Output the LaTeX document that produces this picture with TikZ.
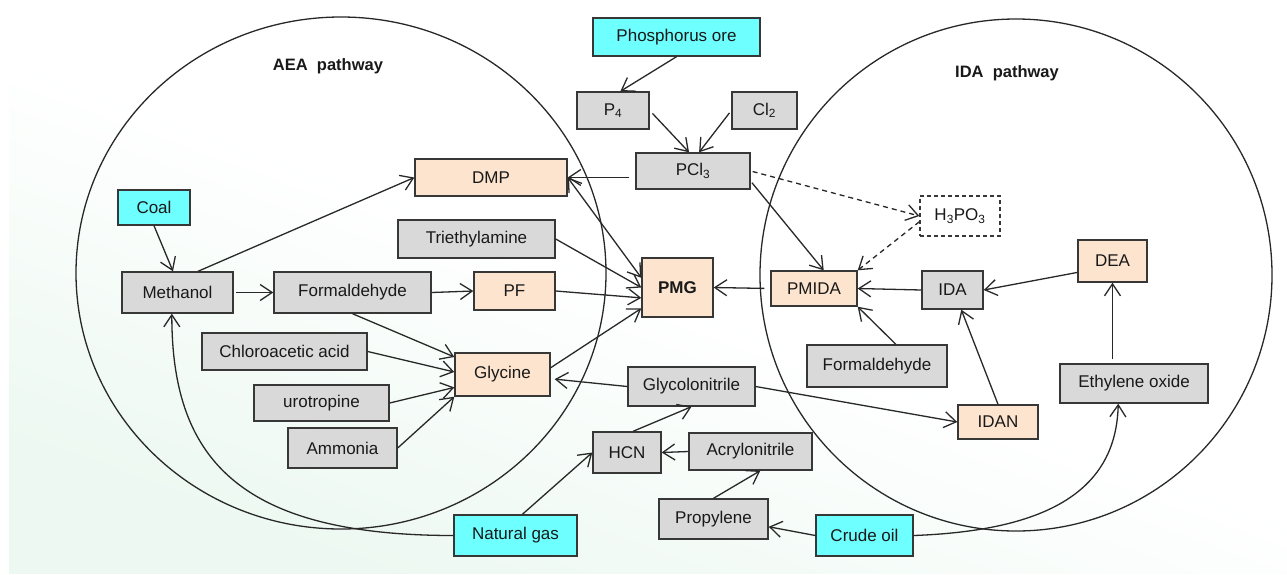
\documentclass[tikz,border=0pt]{standalone}
\usepackage{fontspec}
\setmainfont{Liberation Sans}
\usetikzlibrary{arrows.meta,calc}
\definecolor{cyanf}{RGB}{110,255,255}
\definecolor{peachf}{RGB}{252,228,206}
\definecolor{grayf}{RGB}{217,217,217}
\definecolor{edgec}{RGB}{55,55,55}
\definecolor{linec}{RGB}{40,40,40}
\definecolor{textc}{RGB}{25,25,25}
\definecolor{mintc}{RGB}{236,248,241}
\begin{document}
\begin{tikzpicture}[x=1pt,y=-1pt,
  bx/.style={draw=edgec, line width=1.4pt, inner sep=0pt, text=textc,
    font=\fontsize{17}{19}\selectfont},
  sz/.style 2 args={minimum width=#1pt, minimum height=#2pt},
  gb/.style={bx, fill=grayf},
  pb/.style={bx, fill=peachf},
  cb/.style={bx, fill=cyanf},
  db/.style={bx, fill=white, dash pattern=on 4pt off 3pt, line width=1.2pt},
  arr/.style={draw=linec, line width=1.3pt, -{Straight Barb[length=12pt,width=16pt,line width=1.3pt]}},
  arrb/.style={draw=linec, line width=1.3pt, {Straight Barb[length=12pt,width=16pt,line width=1.3pt]}-{Straight Barb[length=12pt,width=16pt,line width=1.3pt]}},
  darr/.style={arr, dash pattern=on 5pt off 4pt},
  circ/.style={draw=linec, line width=1.3pt},
  ttl/.style={font=\bfseries\fontsize{16.5}{19}\selectfont, text=textc}
]
\useasboundingbox (0,0) rectangle (1287,574);
\shade[top color=white, bottom color=mintc, middle color=white, shading angle=-20] (9,0) rectangle (1287,573);

% pathway circles
\draw[circ] (341,273) ellipse [x radius=265pt, y radius=256pt];
\draw[circ] (1016,275) ellipse [x radius=256pt, y radius=256pt];
\node[ttl] (aea) at (328,66) {AEA\ \ pathway};
\node[ttl] (idap) at (1007,73) {IDA\ \ pathway};

% nodes
\node[cb, sz={167}{38}] (phos) at (676.5,37) {Phosphorus ore};
\node[gb, sz={72}{37}] (p4) at (613,110.5) {P\textsubscript{4}};
\node[gb, sz={65}{37}] (cl2) at (764.5,110.5) {Cl\textsubscript{2}};
\node[gb, sz={114}{36}] (pcl3) at (693,171) {PCl\textsubscript{3}};
\node[pb, sz={152}{37}] (dmp) at (491,177.5) {DMP};
\node[gb, sz={157}{38}] (tea) at (476.5,239) {Triethylamine};
\node[pb, sz={71}{59}, font=\bfseries\fontsize{17}{19}\selectfont] (pmg) at (677.5,287.5) {PMG};
\node[pb, sz={86}{35}] (pmida) at (814,288.5) {PMIDA};
\node[gb, sz={61}{38}] (ida) at (952.5,290) {IDA};
\node[pb, sz={69}{42}] (dea) at (1112.5,261) {DEA};
\node[db, sz={80}{40}] (h3po3) at (960,216) {H\textsubscript{3}PO\textsubscript{3}};
\node[cb, sz={72}{35}] (coal) at (154,207.5) {Coal};
\node[gb, sz={111}{41}] (meth) at (177.5,292.5) {Methanol};
\node[gb, sz={157}{41}] (forml) at (352.5,292.5) {Formaldehyde};
\node[pb, sz={81}{38}] (pf) at (514.5,291) {PF};
\node[gb, sz={165}{37}] (chlor) at (284.5,351.5) {Chloroacetic acid};
\node[gb, sz={135}{36}] (uro) at (321.5,403) {urotropine};
\node[gb, sz={109}{40}] (amm) at (342.5,448) {Ammonia};
\node[pb, sz={95}{43}] (gly) at (502.5,374.5) {Glycine};
\node[gb, sz={127}{39}] (glyco) at (691.5,386.5) {Glycolonitrile};
\node[gb, sz={68}{41}] (hcn) at (627,452.5) {HCN};
\node[gb, sz={123}{37}] (acry) at (750.5,451.5) {Acrylonitrile};
\node[gb, sz={109}{40}] (prop) at (713.5,519) {Propylene};
\node[cb, sz={123}{41}] (ng) at (515.5,535.5) {Natural gas};
\node[cb, sz={97}{41}] (crude) at (864.5,535.5) {Crude oil};
\node[gb, sz={140}{42}] (formr) at (877,366) {Formaldehyde};
\node[pb, sz={80}{34}] (idan) at (998,422) {IDAN};
\node[gb, sz={148}{39}] (eo) at (1134,383.5) {Ethylene oxide};

% connectors
\draw[arr] (phos.south) -- (p4.69);
\draw[arr, shorten <=4pt] (p4.east) -- (pcl3.102);
\draw[arr, shorten <=3pt] (cl2.west) -- (pcl3.72);
\draw[arr, shorten <=6pt] (pcl3.west |- dmp.east) -- (dmp.east);
\draw[arr, shorten <=2pt] (pcl3.-10) -- (pmida.62);
\draw[darr, shorten <=2pt] (pcl3.east) -- (h3po3.west);
\draw[darr] (h3po3.188) -- (pmida.north east);
\draw[arrb] (dmp.east) -- (pmg.165);
\draw[arr] (tea.east) -- (pmg.180);
\draw[arr] (pf.east) -- (pmg.196);
\draw[arr] (gly.8) -- (pmg.210);
\draw[arr, shorten <=6pt] (pmida.west) -- (pmg.east);
\draw[arr] (ida.west) -- (pmida.east);
\draw[arr] (dea.198) -- (ida.east);
\draw[arr, shorten <=4pt] (dea.south |- eo.north) -- (dea.south);
\draw[arr] (formr.49) -- (pmida.south east);
\draw[arr] (idan.north) -- (ida.-66);
\draw[arr] (glyco.east) -- (idan.west);
\draw[arr, shorten >=4pt] (glyco.west) -- (gly.-5);
\draw[arr] (hcn.74) -- (glyco.south);
\draw[arr] (acry.west) -- (hcn.east);
\draw[arr] (prop.north) -- (acry.-63);
\draw[arr] (crude.west) -- (prop.-8);
\draw[arr] (ng.72) -- (hcn.west);
\draw[arr] (coal.south) -- (meth.102);
\draw[arr] (meth.46) -- (dmp.west);
\draw[arr, shorten <=2pt] (meth.east) -- (forml.west);
\draw[arr] (forml.east) -- (pf.west);
\draw[arr] (forml.south) -- (gly.160);
\draw[arr] (chlor.east) -- (gly.177);
\draw[arr] (uro.east) -- (gly.195);
\draw[arr] (amm.east) -- (gly.south west);
\draw[arr] (ng.west) .. controls +(-220,0) and +(0,140) .. (meth.-105);
\draw[arr] (crude.east) .. controls +(137,-5) and +(-2,85) .. (eo.-128);
\end{tikzpicture}
\end{document}
